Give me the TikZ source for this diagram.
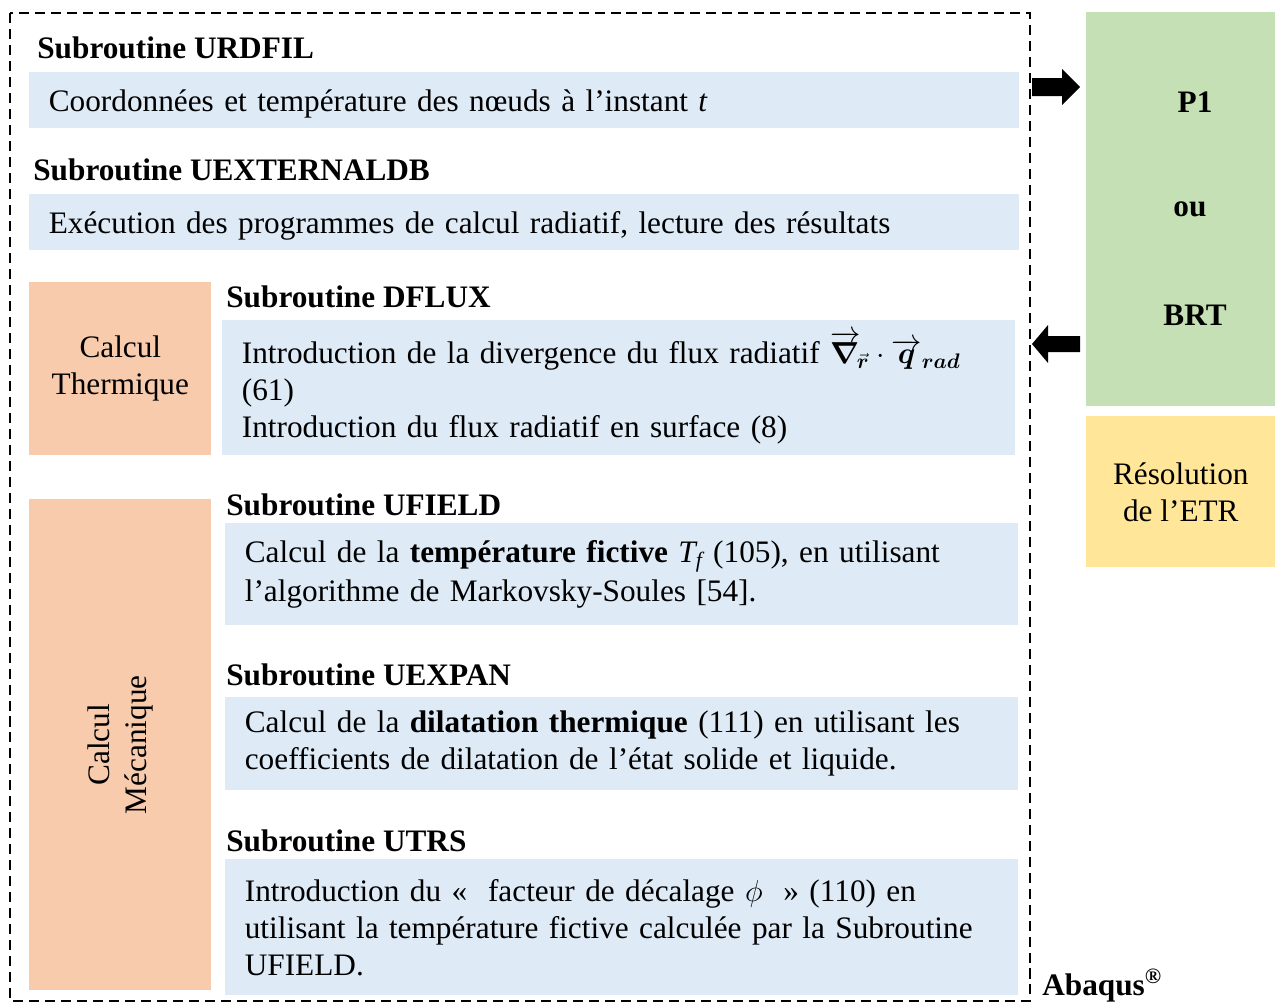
\documentclass[tikz,border=0pt]{standalone}
\usepackage{fontspec}
\setmainfont{Liberation Serif}
\usepackage{amsmath,amssymb}
\usepackage{xcolor}
\usetikzlibrary{positioning}
\definecolor{lightblue}{HTML}{DEEAF6}
\definecolor{lightorange}{HTML}{F8CBAD}
\definecolor{lightgreen}{HTML}{C5E0B4}
\definecolor{lightyellow}{HTML}{FFE699}
\newcommand{\bodyfont}{\fontsize{17.8}{21}\selectfont}
\tikzstyle{title} = [anchor=west, inner sep=0pt, font=\bodyfont\bfseries]
\tikzstyle{infobox} = [rectangle, anchor=north west, fill=lightblue, inner xsep=0.39cm, inner ysep=0pt, align=left]
\tikzstyle{lineinfo} = [infobox, text depth=0pt, minimum width=19.8cm, minimum height=1.12cm, text width=19.02cm]
\tikzstyle{calcbox} = [rectangle, anchor=north west, fill=lightorange, inner sep=0pt, align=center]
\tikzstyle{solverbox} = [rectangle, anchor=north west, inner sep=0pt, align=center, minimum width=3.78cm]
\tikzstyle{blockarrow} = [fill=black]
\tikzstyle{frame} = [line width=1.2pt, dash pattern=on 5.7pt off 3.4pt]

\begin{document}
\begin{tikzpicture}[x=0.02cm, y=-0.02cm, font=\bodyfont]
\useasboundingbox (0,0) rectangle (1275,1004);

% Abaqus part
\draw [frame] (10,13) rectangle (1030,1001);
\node (abaqus) [anchor=base west, inner sep=0pt, font=\bodyfont\bfseries] at (1042,995) {Abaqus\textsuperscript{®}};

\node (urdfil) [title] at (37,48) {Subroutine URDFIL};
\node (coord) [lineinfo] at (29,72) {Coordonnées et température des nœuds à l’instant $\textit{t}$};

\node (uext) [title] at (33,170) {Subroutine UEXTERNALDB};
\node (exec) [lineinfo] at (29,194) {Exécution des programmes de calcul radiatif, lecture des résultats};

\node (thermique) [calcbox, minimum width=3.64cm, minimum height=3.46cm] at (29,282) {Calcul\\Thermique};
\node (dfluxtitle) [title] at (226,297) {Subroutine DFLUX};
\node (dflux) [infobox, minimum width=15.86cm, minimum height=2.7cm, text width=15.08cm] at (222,320) {\lineskiplimit=-20pt Introduction de la divergence du flux radiatif $\overrightarrow{\boldsymbol{\nabla}}_{\!\vec{\boldsymbol{r}}}\cdot\overrightarrow{\boldsymbol{q}}_{\boldsymbol{rad}}$\\(61)\\Introduction du flux radiatif en surface (8)};

\node (mecanique) [calcbox, minimum width=3.64cm, minimum height=9.82cm] at (29,499) {};
\node (mecatext) [rotate=90, align=center, inner sep=0pt] at (mecanique.center) {Calcul\\Mécanique};

\node (ufieldtitle) [title] at (226,505) {Subroutine UFIELD};
\node (ufield) [infobox, minimum width=15.86cm, minimum height=2.04cm, text width=15.08cm, font=\fontsize{17.8}{22.5}\selectfont] at (225,523) {Calcul de la \textbf{température fictive} $\textit{T}_{\textit{f}}$ (105), en utilisant\\l’algorithme de Markovsky-Soules [54].};

\node (uexpantitle) [title] at (226,675) {Subroutine UEXPAN};
\node (uexpan) [infobox, minimum width=15.86cm, minimum height=1.86cm, text width=15.08cm] at (225,697) {Calcul de la \textbf{dilatation thermique} (111) en utilisant les\\coefficients de dilatation de l’état solide et liquide.};

\node (utrstitle) [title] at (226,841) {Subroutine UTRS};
\node (utrs) [infobox, minimum width=15.86cm, minimum height=2.72cm, text width=15.08cm] at (225,859) {Introduction du «~ facteur de décalage $\phi$ ~» (110) en\\utilisant la température fictive calculée par la Subroutine\\UFIELD.};

% radiative transfer solver
\node (solver) [solverbox, fill=lightgreen, minimum height=7.88cm] at (1086,12) {};
\node (p1) [font=\bodyfont\bfseries] at (1195,102) {P1};
\node (ou) [font=\bodyfont\bfseries] at (1190,209) {ou};
\node (brt) [font=\bodyfont\bfseries] at (1195,315) {BRT};
\node (etr) [solverbox, fill=lightyellow, minimum height=3.02cm] at (1086,416) {};
\node (etrtext) at (etr.center) [align=center, inner sep=0pt] {Résolution\\de l’ETR};

% block arrows between Abaqus and the solver
\fill [blockarrow] (1032,78) -- (1062,78) -- (1062,69) -- (1080,87) -- (1062,105) -- (1062,96) -- (1032,96) -- cycle;
\fill [blockarrow] (1080,336) -- (1048,336) -- (1048,325) -- (1032,344) -- (1048,363) -- (1048,352) -- (1080,352) -- cycle;

\end{tikzpicture}
\end{document}
